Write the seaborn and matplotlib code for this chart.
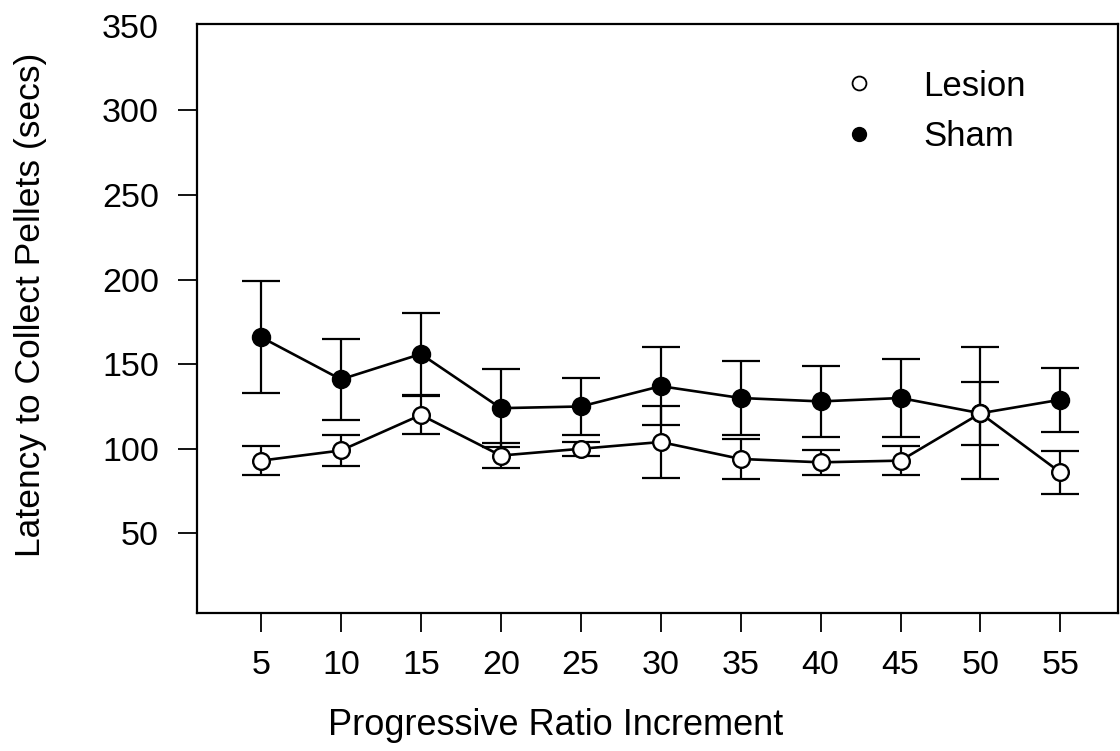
import matplotlib
matplotlib.use("Agg")
import matplotlib.pyplot as plt
import seaborn as sns
import pandas as pd
from matplotlib.lines import Line2D

increments = [5, 10, 15, 20, 25, 30, 35, 40, 45, 50, 55]
sham_mean = [166, 141, 156, 124, 125, 137, 130, 128, 130, 121, 129]
sham_se = [33, 24, 24, 23, 17, 23, 22, 21, 23, 39, 19]
lesion_mean = [93, 99, 120, 96, 100, 104, 94, 92, 93, 121, 86]
lesion_se = [8.5, 9, 11, 7.5, 4, 21, 12, 7.5, 8.5, 18.5, 12.5]

sns.set_theme(style="ticks")
plt.rcParams['font.family'] = ['Liberation Sans', 'DejaVu Sans']

df = pd.DataFrame({
    "x": increments * 2,
    "y": sham_mean + lesion_mean,
    "group": ["Sham"] * len(increments) + ["Lesion"] * len(increments),
})

fig = plt.figure(figsize=(11.2, 7.51), dpi=100)
ax = fig.add_axes([0.1759, 0.1838, 0.8223, 0.7843])

# error bars
ax.errorbar(increments, sham_mean, yerr=sham_se, fmt='none', ecolor='black',
            elinewidth=1.6, capsize=14, capthick=1.6, zorder=2)
ax.errorbar(increments, lesion_mean, yerr=lesion_se, fmt='none', ecolor='black',
            elinewidth=1.6, capsize=14, capthick=1.6, zorder=2)

sns.lineplot(data=df[df.group == "Sham"], x="x", y="y", ax=ax, color='black',
             lw=1.9, marker='o', markersize=12.5, markerfacecolor='black',
             markeredgecolor='black', markeredgewidth=1.5, legend=False, zorder=3)
sns.lineplot(data=df[df.group == "Lesion"], x="x", y="y", ax=ax, color='black',
             lw=1.9, marker='o', markersize=12, markerfacecolor='white',
             markeredgecolor='black', markeredgewidth=1.7, legend=False, zorder=4)

ax.set_xlim(1, 58.6)
ax.set_ylim(3, 351)
ax.set_xticks(increments)
ax.set_yticks([50, 100, 150, 200, 250, 300, 350])
ax.tick_params(axis='both', direction='out', length=13.5, width=1.3, labelsize=24.5,
               colors='black')
ax.tick_params(axis='y', pad=14)
ax.tick_params(axis='x', pad=13)
ax.yaxis.get_major_ticks()[-1].tick1line.set_visible(False)
for s in ax.spines.values():
    s.set_linewidth(1.6)
    s.set_color('black')

ax.set_xlabel("Progressive Ratio Increment", fontsize=26, color='black')
ax.set_ylabel("Latency to Collect Pellets (secs)", fontsize=25.5, color='black')
ax.xaxis.set_label_coords(0.389, -0.161)
ax.yaxis.set_label_coords(-0.163, 0.524)

handles = [
    Line2D([], [], ls='none', marker='o', markersize=10, markerfacecolor='white',
           markeredgecolor='black', markeredgewidth=1.3),
    Line2D([], [], ls='none', marker='o', markersize=10, markerfacecolor='black',
           markeredgecolor='black'),
]
leg = ax.legend(handles, ["Lesion", "Sham"], loc='upper left', bbox_to_anchor=(0.666, 0.946),
                borderaxespad=0, frameon=False, fontsize=25, handletextpad=0.85,
                labelspacing=0.5)
for t in leg.get_texts():
    t.set_color('black')

fig.savefig("out.png", dpi=100)
